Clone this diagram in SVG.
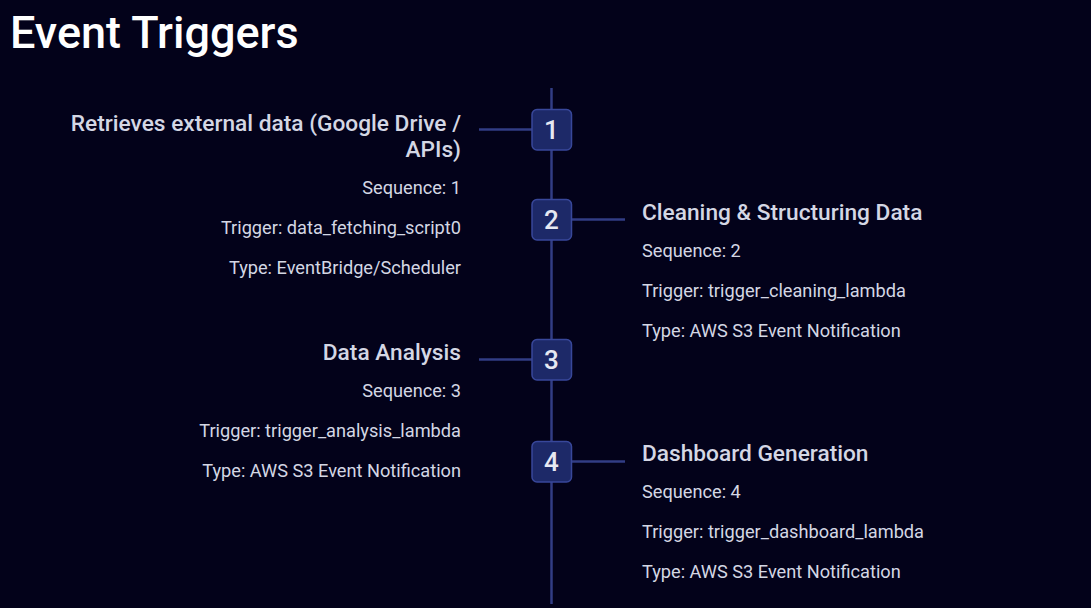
<svg xmlns="http://www.w3.org/2000/svg" width="1091" height="608" viewBox="0 0 1091 608">
<style>
.title{font-family:Roboto,"Liberation Sans",sans-serif;font-size:45px;font-weight:500;fill:#ffffff}
.h{font-family:Roboto,"Liberation Sans",sans-serif;font-size:22.7px;font-weight:500;fill:#d4d7e4}
.t{font-family:Roboto,"Liberation Sans",sans-serif;font-size:18.2px;font-weight:400;fill:#d4d7e4}
.l{text-anchor:end}
.num{font-family:Roboto,"Liberation Sans",sans-serif;font-size:26px;font-weight:500;fill:#e6e8f2;text-anchor:middle}
.box{fill:#1d2968;stroke:#38479a;stroke-width:1.5}
.ln{stroke:#323d85;stroke-width:2.5;fill:none}
</style>
<rect width="1091" height="608" fill="#03021a"/>
<text class="title" x="10" y="47.5">Event Triggers</text>
<g id="connectors">
<line class="ln" x1="551.5" y1="88" x2="551.5" y2="604"/>
<line class="ln" x1="479" y1="129.5" x2="532" y2="129.5"/>
<line class="ln" x1="572" y1="219.5" x2="625" y2="219.5"/>
<line class="ln" x1="479" y1="359.5" x2="532" y2="359.5"/>
<line class="ln" x1="572" y1="461.5" x2="625" y2="461.5"/>
</g>
<g id="node1">
<rect class="box" x="532" y="109.5" width="39.5" height="40.5" rx="5"/>
<text class="num" x="551.5" y="139">1</text>
<text class="h l" x="461" y="130.5">Retrieves external data (Google Drive /</text>
<text class="h l" x="461" y="157">APIs)</text>
<text class="t l" x="461" y="194">Sequence: 1</text>
<text class="t l" x="461" y="234">Trigger: data_fetching_script0</text>
<text class="t l" x="461" y="274">Type: EventBridge/Scheduler</text>
</g>
<g id="node2">
<rect class="box" x="532" y="199.5" width="39.5" height="40.5" rx="5"/>
<text class="num" x="551.5" y="229">2</text>
<text class="h" x="642" y="220">Cleaning &amp; Structuring Data</text>
<text class="t" x="642" y="257">Sequence: 2</text>
<text class="t" x="642" y="297">Trigger: trigger_cleaning_lambda</text>
<text class="t" x="642" y="337">Type: AWS S3 Event Notification</text>
</g>
<g id="node3">
<rect class="box" x="532" y="339.5" width="39.5" height="40.5" rx="5"/>
<text class="num" x="551.5" y="369">3</text>
<text class="h l" x="461" y="360">Data Analysis</text>
<text class="t l" x="461" y="397">Sequence: 3</text>
<text class="t l" x="461" y="437">Trigger: trigger_analysis_lambda</text>
<text class="t l" x="461" y="477">Type: AWS S3 Event Notification</text>
</g>
<g id="node4">
<rect class="box" x="532" y="441.5" width="39.5" height="40.5" rx="5"/>
<text class="num" x="551.5" y="471">4</text>
<text class="h" x="642" y="461">Dashboard Generation</text>
<text class="t" x="642" y="498">Sequence: 4</text>
<text class="t" x="642" y="538">Trigger: trigger_dashboard_lambda</text>
<text class="t" x="642" y="578">Type: AWS S3 Event Notification</text>
</g>
</svg>
